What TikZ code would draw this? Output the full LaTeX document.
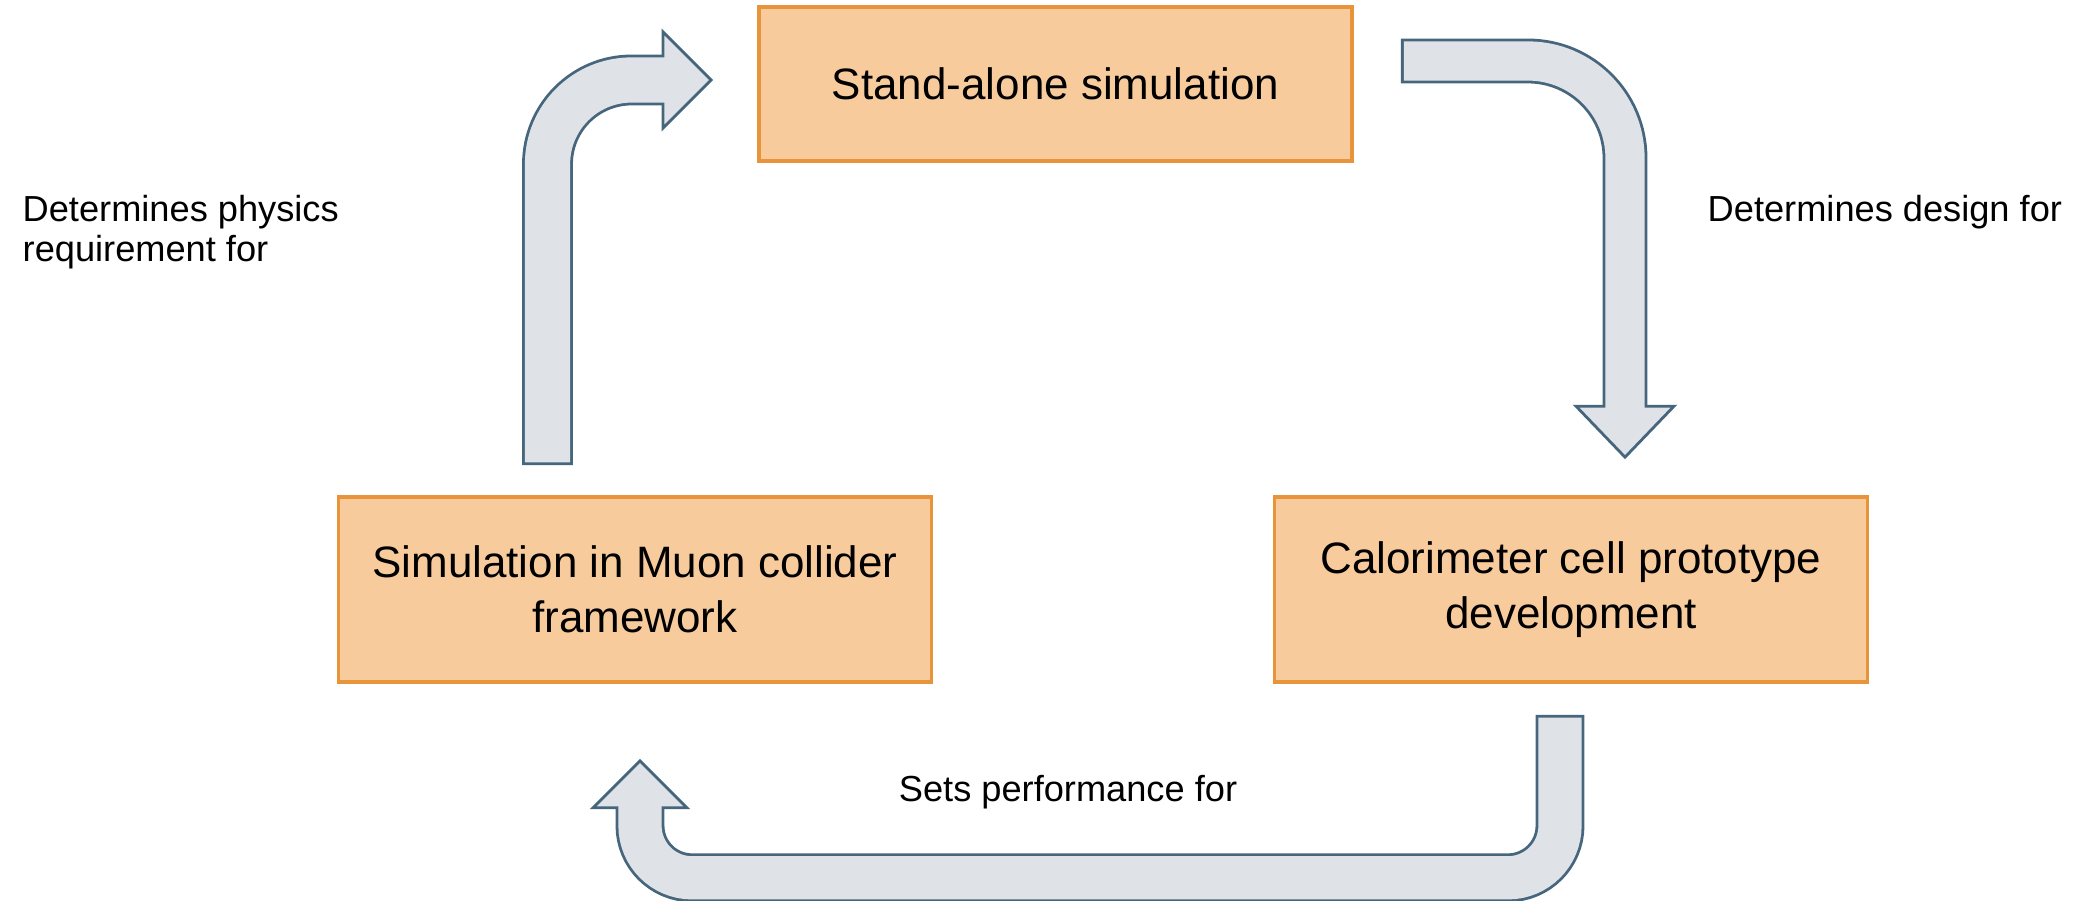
\documentclass[tikz,border=0pt]{standalone}
\usepackage{fontspec}
\setmainfont{Liberation Sans}
\usetikzlibrary{calc}

\definecolor{boxfill}{HTML}{F8CB9C}
\definecolor{boxline}{HTML}{E8943A}
\definecolor{arrowfill}{HTML}{DFE3E7}
\definecolor{arrowline}{HTML}{46667D}

\tikzset{
  stage/.style={draw=boxline, fill=boxfill, line width=1pt, align=center,
    minimum width=5.93cm, font=\fontsize{12.5}{15.5}\selectfont},
  note/.style={align=left, inner sep=0pt, font=\fontsize{10.3}{11.4}\selectfont},
  shaftout/.style={draw=arrowline, line width=#1+0.8pt},
  shaftin/.style={draw=arrowfill, line width=#1-0.8pt, shorten <=0.8pt},
  head/.style={fill=arrowfill, draw=arrowline, line width=0.8pt},
}

\begin{document}
\begin{tikzpicture}[x=0.01cm, y=-0.01cm]
\useasboundingbox (0,0) rectangle (2085,901);

% the three stages
\node[stage, minimum height=1.54cm] (standalone) at (1055.5,84) {Stand-alone simulation};
\node[stage, minimum height=1.85cm] (muon) at (635,589.5) {Simulation in Muon collider\\framework};
\node[stage, minimum height=1.85cm] (calo) at (1571,589.5) {Calorimeter cell prototype\\development};

% muon framework -> stand-alone
\coordinate (uptail) at ($(muon.north)+(-87.5,-30)$);
\coordinate (uptip) at ($(standalone.west)+(-46,-4)$);
\coordinate (upbase) at ($(uptip)+(-48,0)$);
\draw[shaftout=0.48cm, rounded corners=0.84cm] (uptail) |- (upbase);
\filldraw[head] ($(upbase)+(0,-48)$) -- (uptip) -- ($(upbase)+(0,48)$) -- cycle;
\draw[shaftin=0.48cm, rounded corners=0.84cm] (uptail) |- ($(upbase)+(4,0)$);

% stand-alone -> calorimeter cell
\coordinate (dntail) at ($(standalone.east)+(47,-23)$);
\coordinate (dntip) at ($(calo.north)+(54,-38)$);
\coordinate (dnbase) at ($(dntip)+(0,-51)$);
\draw[shaftout=0.42cm, rounded corners=0.97cm] (dntail) -| (dnbase);
\filldraw[head] ($(dnbase)+(-49,0)$) -- (dntip) -- ($(dnbase)+(49,0)$) -- cycle;
\draw[shaftin=0.42cm, rounded corners=0.97cm] (dntail) -| ($(dnbase)+(0,4)$);

% calorimeter cell -> muon framework
\coordinate (backtail) at ($(calo.south)+(-11,31)$);
\coordinate (backtip) at ($(muon.south)+(5,77)$);
\coordinate (backbase) at ($(backtip)+(0,47)$);
\coordinate (backlow) at ($(backbase)+(0,70)$);
\draw[shaftout=0.46cm, rounded corners=0.52cm] (backtail) |- (backlow) -- (backbase);
\filldraw[head] ($(backbase)+(-47,0)$) -- (backtip) -- ($(backbase)+(47,0)$) -- cycle;
\draw[shaftin=0.46cm, rounded corners=0.52cm] (backtail) |- (backlow) -- ($(backbase)+(0,-4)$);

% labels
\node[note, anchor=west] (physicsnote) at (22,232) {Determines physics\\requirement for};
\node[note, anchor=base west] (designnote) at (1707,222) {Determines design for};
\node[note, anchor=base] (perfnote) at (1068,802) {Sets performance for};
\end{tikzpicture}
\end{document}
